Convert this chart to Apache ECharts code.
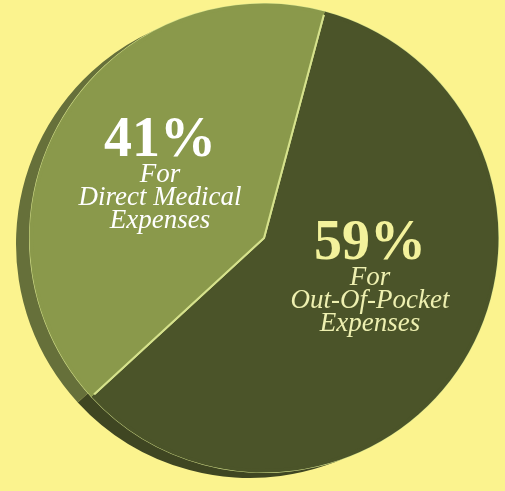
<!DOCTYPE html>
<html>
<head>
<meta charset="utf-8">
<style>
  html, body { margin: 0; padding: 0; background: #fbf38e; }
  #chart { width: 505px; height: 491px; }
</style>
<script src="https://cdn.jsdelivr.net/npm/echarts@6/dist/echarts.min.js"></script>
</head>
<body>
<div id="chart"></div>
<script>
const categories = ['Out-Of-Pocket Expenses', 'Direct Medical Expenses'];
const values = [59, 41];
const labelLines = [['For', 'Out-Of-Pocket', 'Expenses'], ['For', 'Direct Medical', 'Expenses']];

const sliceColors = ['#4b5429', '#8a994b'];
const rimColors = ['#3f4622', '#66703a'];
const pctColors = ['#f3f29c', '#ffffff'];
const textColors = ['#eef0b0', '#ffffff'];
const labelPos = [[370, 279], [160, 176]];

const chart = echarts.init(document.getElementById('chart'), null, { renderer: 'canvas' });

const C = [264, 238];
const R = 234;
const START = 75;

const option = {
  backgroundColor: '#fbf38e',
  animation: false,
  series: [
    {
      // 3D side (rim) of the pie
      type: 'pie',
      center: [C[0] - 14, C[1] + 6],
      radius: R,
      startAngle: START,
      silent: true,
      z: 1,
      label: { show: false },
      labelLine: { show: false },
      data: categories.map((name, i) => ({ name: name, value: values[i], itemStyle: { color: rimColors[i], borderWidth: 0 } }))
    },
    {
      type: 'pie',
      center: C,
      radius: R,
      startAngle: START,
      clockwise: true,
      silent: true,
      z: 2,
      data: categories.map((name, i) => ({
        name: name,
        value: values[i],
        itemStyle: {
          color: sliceColors[i],
          borderColor: '#d6e28c',
          borderWidth: 2
        },
        label: {
          show: true,
          position: 'inside',
          formatter: () => '{p|' + values[i] + '%}\n' + labelLines[i].map(l => '{t|' + l + '}').join('\n'),
          rich: {
            p: { fontFamily: 'Liberation Serif', fontWeight: 'bold', fontSize: 56, color: pctColors[i], lineHeight: 44, align: 'center' },
            t: { fontFamily: 'Liberation Serif', fontStyle: 'italic', fontSize: 27, color: textColors[i], lineHeight: 23, align: 'center' }
          }
        }
      })),
      labelLine: { show: false },
      labelLayout: function (params) {
        const p = labelPos[params.dataIndex];
        return { x: p[0], y: p[1], align: 'center', verticalAlign: 'middle' };
      }
    },
    {
      // outer ring hides the light border on the outer arc
      type: 'pie',
      center: C,
      radius: [R - 3, R + 0.5],
      startAngle: START,
      silent: true,
      z: 3,
      label: { show: false },
      labelLine: { show: false },
      data: categories.map((name, i) => ({ name: name, value: values[i], itemStyle: { color: sliceColors[i], borderWidth: 0 } }))
    }
  ]
};
chart.setOption(option);
</script>
</body>
</html>
